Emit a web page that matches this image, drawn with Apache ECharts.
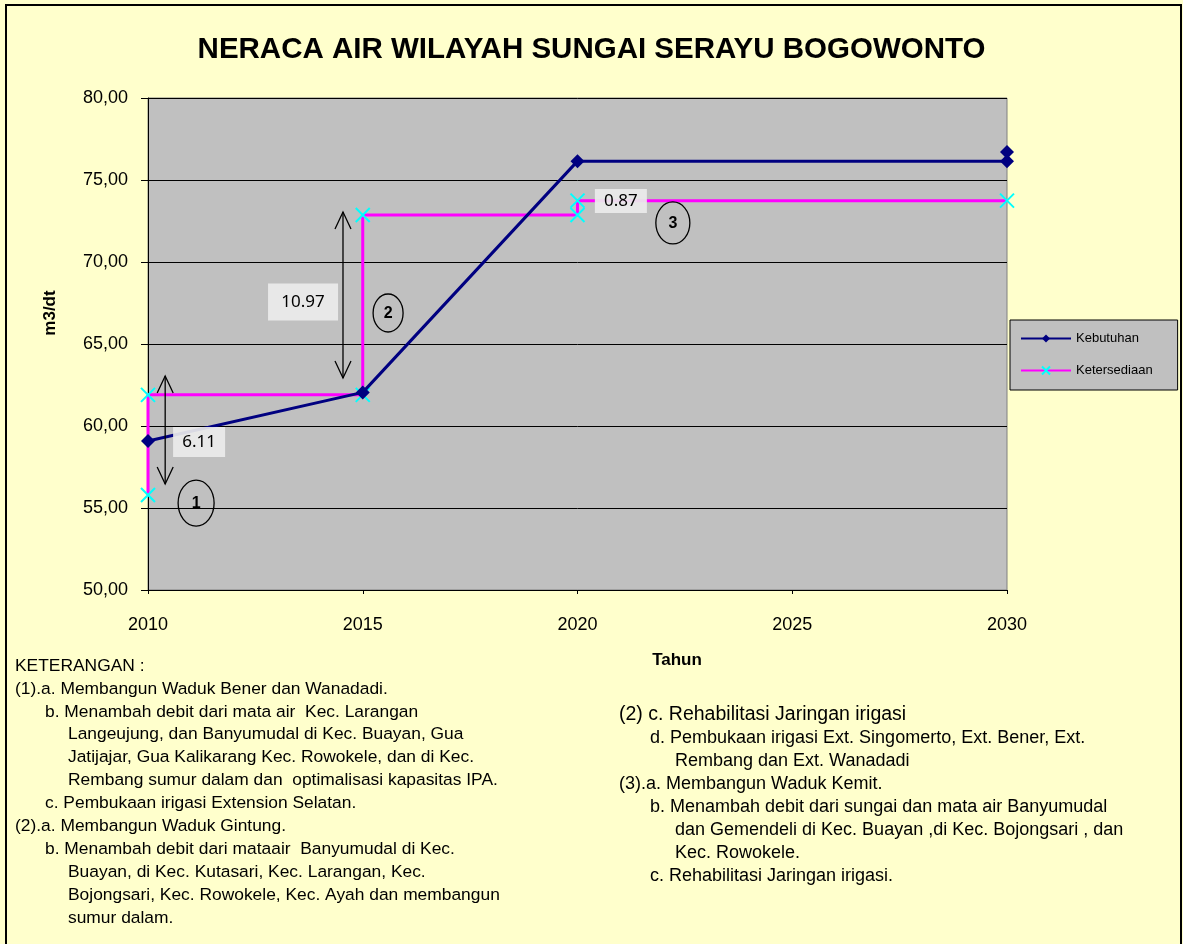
<!DOCTYPE html>
<html><head><meta charset="utf-8">
<script src="https://cdn.jsdelivr.net/npm/echarts@6/dist/echarts.min.js"></script>
<style>html,body{margin:0;padding:0;background:#FFFFCC}#c{width:1183px;height:944px}</style>
</head><body><div id="c"></div>
<script>
// ---- data ----
const titleText = 'NERACA AIR WILAYAH SUNGAI SERAYU BOGOWONTO';
const seriesNames = ['Kebutuhan', 'Ketersediaan'];
const kebutuhan = [[2010, 59.09], [2015, 62.05], [2020, 76.15], [2030, 76.15], [2030, 76.7]];
const ketersediaan = [[2010, 55.79], [2010, 61.9], [2015, 61.9], [2015, 72.87], [2020, 72.87], [2020, 73.74], [2030, 73.74]];
const xTicks = [2010, 2015, 2020, 2025, 2030];
const yTicks = [50, 55, 60, 65, 70, 75, 80];
// annotations (data coordinates)
const arrows = [[2010.40, 63.05, 56.46], [2014.54, 73.05, 62.93]];
const diffLabels = [['6.11', 2011.19, 59.02], ['10.97', 2013.61, 67.56], ['0.87', 2021.01, 73.72]];
const stepCircles = [['1', 2011.12, 55.30], ['2', 2015.59, 66.89], ['3', 2022.22, 72.38]];
const notesLeft = [
  [0, 'KETERANGAN :'],
  [0, '(1).a. Membangun Waduk Bener dan Wanadadi.'],
  [1, 'b. Menambah debit dari mata air  Kec. Larangan'],
  [2, 'Langeujung, dan Banyumudal di Kec. Buayan, Gua'],
  [2, 'Jatijajar, Gua Kalikarang Kec. Rowokele, dan di Kec.'],
  [2, 'Rembang sumur dalam dan  optimalisasi kapasitas IPA.'],
  [1, 'c. Pembukaan irigasi Extension Selatan.'],
  [0, '(2).a. Membangun Waduk Gintung.'],
  [1, 'b. Menambah debit dari mataair  Banyumudal di Kec.'],
  [2, 'Buayan, di Kec. Kutasari, Kec. Larangan, Kec.'],
  [2, 'Bojongsari, Kec. Rowokele, Kec. Ayah dan membangun'],
  [2, 'sumur dalam.']
];
const notesRight = [
  [0, '(2) c. Rehabilitasi Jaringan irigasi'],
  [1, 'd. Pembukaan irigasi Ext. Singomerto, Ext. Bener, Ext.'],
  [2, 'Rembang dan Ext. Wanadadi'],
  [0, '(3).a. Membangun Waduk Kemit.'],
  [1, 'b. Menambah debit dari sungai dan mata air Banyumudal'],
  [2, 'dan Gemendeli di Kec. Buayan ,di Kec. Bojongsari , dan'],
  [2, 'Kec. Rowokele.'],
  [1, 'c. Rehabilitasi Jaringan irigasi.']
];

const FONT = 'Liberation Sans, Arial, sans-serif';
const chart = echarts.init(document.getElementById('c'), null, {renderer: 'canvas'});

const option = {
  animation: false,
  backgroundColor: '#FFFFCC',
  title: {
    text: titleText, left: 'center', top: 30,
    textStyle: {fontFamily: FONT, fontSize: 29.5, fontWeight: 'bold', color: '#000'}
  },
  grid: {
    left: 148, right: 176, top: 98, bottom: 354, show: true,
    backgroundColor: '#C0C0C0', borderColor: '#808080', borderWidth: 1
  },
  legend: {
    data: seriesNames, orient: 'vertical', left: 1010, top: 320,
    backgroundColor: '#C0C0C0', borderColor: '#000', borderWidth: 1,
    padding: [12, 25, 13, 10], itemGap: 19, itemWidth: 50, itemHeight: 10,
    textStyle: {fontFamily: FONT, fontSize: 13, color: '#000'}
  },
  xAxis: {
    type: 'value', min: 2010, max: 2030, interval: 5,
    axisLine: {lineStyle: {color: '#000', width: 1}},
    axisTick: {show: true, length: 4, lineStyle: {color: '#000'}},
    axisLabel: {fontFamily: FONT, fontSize: 18, color: '#000', margin: 26, formatter: v => String(v)},
    splitLine: {show: false}
  },
  yAxis: {
    type: 'value', min: 50, max: 80, interval: 5,
    axisLine: {show: true, lineStyle: {color: '#000', width: 1}},
    axisTick: {show: true, length: 7, lineStyle: {color: '#000'}},
    axisLabel: {fontFamily: FONT, fontSize: 18, color: '#000', margin: 20,
      formatter: v => v.toFixed(2).replace('.', ',')},
    splitLine: {show: true, lineStyle: {color: '#000', width: 1}}
  },
  series: [
    {
      name: seriesNames[0], type: 'line', data: kebutuhan, z: 3,
      symbol: 'diamond', symbolSize: 14, showSymbol: true,
      lineStyle: {color: '#000080', width: 3},
      itemStyle: {color: '#000080'}
    },
    {
      name: seriesNames[1], type: 'line', data: ketersediaan, z: 2,
      symbol: 'path://M0,0L10,10M10,0L0,10', symbolSize: 14, showSymbol: true,
      lineStyle: {color: '#FF00FF', width: 3},
      itemStyle: {color: '#00FFFF', borderColor: '#00FFFF', borderWidth: 2}
    }
  ]
};
chart.setOption(option);

const g = [];
// outer frame
g.push({type: 'rect', shape: {x: 6, y: 5, width: 1175, height: 960}, style: {fill: 'none', stroke: '#000', lineWidth: 2}, z: 100});
// axis titles
g.push({type: 'text', x: 50, y: 313, rotation: Math.PI / 2,
  style: {text: 'm3/dt', fontFamily: FONT, fontSize: 17, fontWeight: 'bold', fill: '#000', align: 'center', verticalAlign: 'middle'}});
g.push({type: 'text', x: 677, y: 660,
  style: {text: 'Tahun', fontFamily: FONT, fontSize: 17, fontWeight: 'bold', fill: '#000', align: 'center', verticalAlign: 'middle'}});

// arrows
arrows.forEach(a => {
  const p1 = chart.convertToPixel({gridIndex: 0}, [a[0], a[1]]);
  const p2 = chart.convertToPixel({gridIndex: 0}, [a[0], a[2]]);
  const st = {stroke: '#000', lineWidth: 1.3, fill: 'none'};
  g.push({type: 'line', shape: {x1: p1[0], y1: p1[1], x2: p2[0], y2: p2[1]}, style: st, z: 50});
  g.push({type: 'polyline', shape: {points: [[p1[0] - 8, p1[1] + 17], [p1[0], p1[1]], [p1[0] + 8, p1[1] + 17]]}, style: st, z: 50});
  g.push({type: 'polyline', shape: {points: [[p2[0] - 8, p2[1] - 17], [p2[0], p2[1]], [p2[0] + 8, p2[1] - 17]]}, style: st, z: 50});
});
// difference label boxes
diffLabels.forEach(d => {
  const p = chart.convertToPixel({gridIndex: 0}, [d[1], d[2]]);
  const w = d[0].length > 4 ? 70 : 52, h = d[0].length > 4 ? 37 : (d[0] === '0.87' ? 24 : 30);
  g.push({type: 'rect', shape: {x: p[0] - w / 2, y: p[1] - h / 2, width: w, height: h}, style: {fill: 'rgba(235,235,235,0.92)'}, z: 60});
  g.push({type: 'text', x: p[0], y: p[1], z: 61,
    style: {text: d[0], fontFamily: 'Noto Sans, Open Sans, sans-serif', fontSize: 17, fill: '#000', align: 'center', verticalAlign: 'middle'}});
});
// step circles
stepCircles.forEach((c, i) => {
  const p = chart.convertToPixel({gridIndex: 0}, [c[1], c[2]]);
  const sz = [[18, 23], [15, 19], [17, 21]][i];
  g.push({type: 'ellipse', shape: {cx: p[0], cy: p[1], rx: sz[0], ry: sz[1]}, style: {fill: 'none', stroke: '#000', lineWidth: 1.3}, z: 60});
  g.push({type: 'text', x: p[0], y: p[1] + 1, z: 61,
    style: {text: c[0], fontFamily: FONT, fontSize: 16, fontWeight: 'bold', fill: '#000', align: 'center', verticalAlign: 'middle'}});
});
// notes
const indL = [15, 45, 68];
notesLeft.forEach((n, i) => {
  g.push({type: 'text', x: indL[n[0]], y: 666 + i * 22.9,
    style: {text: n[1], fontFamily: FONT, fontSize: 17.4, fill: '#000', align: 'left', verticalAlign: 'middle'}});
});
const indR = [619, 650, 675];
notesRight.forEach((n, i) => {
  const first = i === 0;
  g.push({type: 'text', x: indR[n[0]], y: 715 + i * 23,
    style: {text: n[1], fontFamily: FONT, fontSize: first ? 19.5 : 18, fill: '#000', align: 'left', verticalAlign: 'middle'}});
});
chart.setOption({graphic: g});
</script></body></html>
